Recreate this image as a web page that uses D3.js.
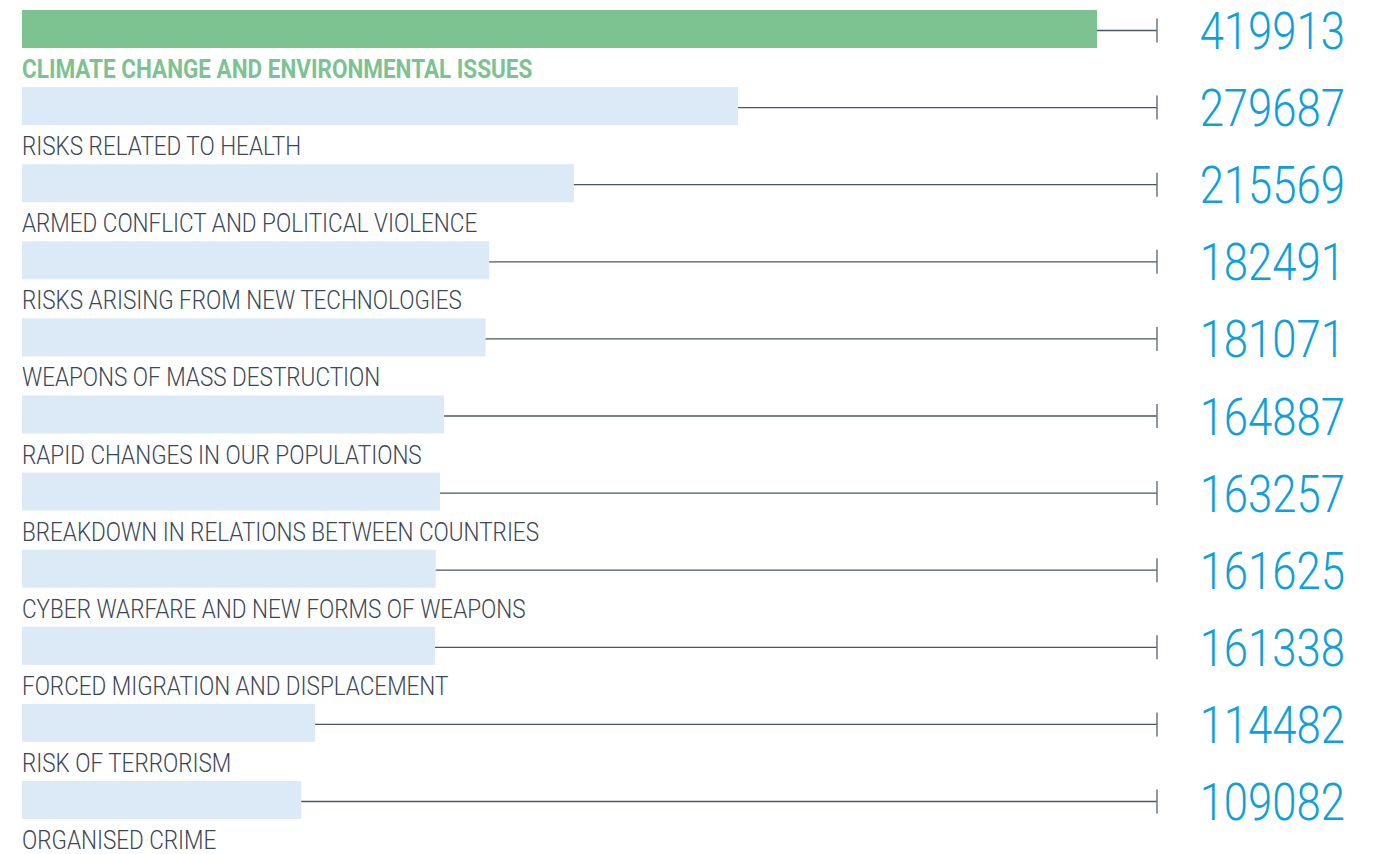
<!DOCTYPE html>
<html>
<head>
<meta charset="utf-8">
<script src="https://cdn.jsdelivr.net/npm/d3@7"></script>
<style>
  html, body { margin: 0; padding: 0; background: #ffffff; }
  svg { display: block; }
</style>
</head>
<body>
<div id="chart"></div>
<script>
// risks, highest first
const categories = [
  "CLIMATE CHANGE AND ENVIRONMENTAL ISSUES",
  "RISKS RELATED TO HEALTH",
  "ARMED CONFLICT AND POLITICAL VIOLENCE",
  "RISKS ARISING FROM NEW TECHNOLOGIES",
  "WEAPONS OF MASS DESTRUCTION",
  "RAPID CHANGES IN OUR POPULATIONS",
  "BREAKDOWN IN RELATIONS BETWEEN COUNTRIES",
  "CYBER WARFARE AND NEW FORMS OF WEAPONS",
  "FORCED MIGRATION AND DISPLACEMENT",
  "RISK OF TERRORISM",
  "ORGANISED CRIME"
];
const values = [419913, 279687, 215569, 182491, 181071, 164887, 163257, 161625, 161338, 114482, 109082];

const width = 1376, height = 854;
const left = 22, barMax = 1097, tickX = 1157, numRight = 1345;
const step = 77.1, barH = 38, topY = 10;
const green = "#7dc291", pale = "#dce9f7", blue = "#0f9fdc", ink = "#3b4657";

const svg = d3.select("#chart").append("svg")
  .attr("width", width)
  .attr("height", height);

const x = d3.scaleLinear()
  .domain([0, d3.max(values)])
  .range([left, barMax]);

// band step = (range) / (n - paddingInner) with no outer padding
const y = d3.scaleBand()
  .domain(categories)
  .range([topY, topY + step * (categories.length - 1) + barH])
  .paddingInner((step - barH) / step)
  .paddingOuter(0);

const rows = svg.selectAll("g.row")
  .data(categories.map((c, i) => ({name: c, value: values[i], i})))
  .enter().append("g")
  .attr("class", "row")
  .attr("transform", d => `translate(0, ${y(d.name)})`);

rows.append("rect")
  .attr("x", x(0))
  .attr("y", 0)
  .attr("width", d => x(d.value) - x(0))
  .attr("height", y.bandwidth())
  .attr("fill", d => d.i === 0 ? green : pale);

// leader line + end tick
const midY = y.bandwidth() / 2 + 1.5;
rows.append("line")
  .attr("x1", d => x(d.value))
  .attr("x2", tickX)
  .attr("y1", midY)
  .attr("y2", midY)
  .attr("stroke", "#4a5566")
  .attr("stroke-width", 1.3);

rows.append("line")
  .attr("x1", tickX)
  .attr("x2", tickX)
  .attr("y1", midY - 12)
  .attr("y2", midY + 12)
  .attr("stroke", "#6b7585")
  .attr("stroke-width", 1.5);

// big numbers
rows.append("text")
  .attr("transform", `translate(${numRight}, ${y.bandwidth() + 1}) scale(0.84, 1)`)
  .attr("text-anchor", "end")
  .attr("font-family", "Roboto, sans-serif")
  .attr("font-weight", 300)
  .attr("font-size", 52)
  .attr("fill", blue)
  .text(d => d.value);

// labels under bars
rows.append("text")
  .attr("transform", `translate(${left}, ${y.bandwidth() + 30}) scale(0.9, 1)`)
  .attr("font-family", "Roboto, sans-serif")
  .attr("font-weight", d => d.i === 0 ? 700 : 300)
  .attr("font-size", 25)
  .attr("fill", d => d.i === 0 ? green : ink)
  .text(d => d.name);
</script>
</body>
</html>
